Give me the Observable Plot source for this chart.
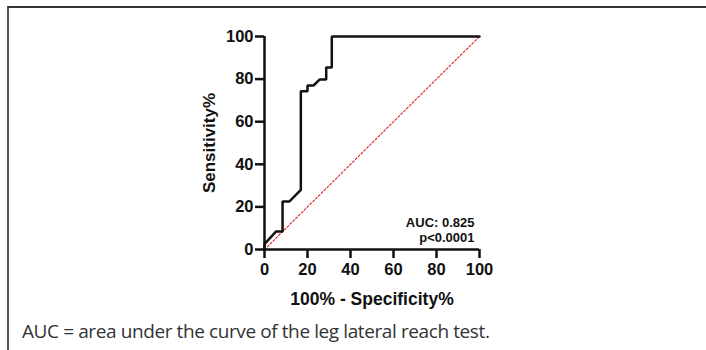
<!DOCTYPE html>
<html>
<head>
<meta charset="utf-8">
<script src="https://cdn.jsdelivr.net/npm/d3@7"></script>
<script src="https://cdn.jsdelivr.net/npm/@observablehq/plot@0.6"></script>
<style>
  html, body { margin: 0; padding: 0; background: #fff; }
  #wrap { position: relative; width: 706px; height: 350px; overflow: hidden; }
  #frame { position: absolute; left: 7px; top: 6px; width: 720px; height: 360px;
           border-left: 2px solid #555; border-top: 2px solid #333; }
  #chart { position: absolute; left: 0; top: 0; }
  #caption { position: absolute; left: 22px; top: 322px; font-family: "Open Sans", sans-serif;
             font-size: 19px; line-height: 19px; color: #333; white-space: nowrap; letter-spacing: -0.4px; }
  #chart svg text { font-family: "Liberation Sans", Arial, sans-serif !important; font-weight: bold !important; }
  #chart svg g[aria-label="x-axis tick label"] text,
  #chart svg g[aria-label="y-axis tick label"] text { font-size: 16.5px !important; }
  #chart svg g[aria-label="x-axis label"] text { font-size: 17.5px !important; }
  #chart svg g[aria-label="y-axis label"] text { font-size: 17px !important; }
  #chart svg g[aria-label="text"] text { font-size: 13px !important; }
</style>
</head>
<body>
<div id="wrap">
  <div id="frame"></div>
  <div id="chart"></div>
  <div id="caption">AUC = area under the curve of the leg lateral reach test.</div>
</div>
<script>
// ROC curve: 100% - Specificity% (x) vs Sensitivity% (y)
const fpr = [0, 0, 5.4, 8.4, 8.4, 11.5, 16.9, 16.9, 20, 20, 22.8, 25.6, 28.7, 28.7, 31.3, 31.3, 100];
const tpr = [0, 2.5, 8.5, 8.5, 22.5, 22.5, 28, 74.3, 74.3, 77, 77, 79.8, 79.8, 85.5, 85.5, 100, 100];
const refX = [0, 100];
const refY = [0, 100];
const ticks = [0, 20, 40, 60, 80, 100];
const xLabel = "100% - Specificity%";
const yLabel = "Sensitivity%";
const annotation = "AUC: 0.825\np<0.0001";

const roc = fpr.map((x, i) => ({x, y: tpr[i]}));
const ref = refX.map((x, i) => ({x, y: refY[i]}));

const plot = Plot.plot({
  width: 706,
  height: 316,
  marginLeft: 264,
  marginRight: 227,
  marginTop: 36,
  marginBottom: 67,
  style: {fontFamily: "Liberation Sans, Arial, sans-serif", fontWeight: "bold", fontSize: "16.5px", background: "transparent", color: "#111"},
  x: {domain: [0, 100]},
  y: {domain: [0, 100]},
  marks: [
    Plot.line(ref, {x: "x", y: "y", stroke: "#e03030", strokeWidth: 1.2, strokeDasharray: "2,2"}),
    Plot.line(roc, {x: "x", y: "y", stroke: "#111", strokeWidth: 2.5, strokeLinejoin: "miter"}),
    Plot.ruleY([0], {x1: 0, x2: 100, stroke: "#111", strokeWidth: 2.5}),
    Plot.ruleX([0], {y1: 0, y2: 100, stroke: "#111", strokeWidth: 2.5}),
    Plot.axisX({ticks, tickSize: 9, tickPadding: 5, strokeWidth: 2.5, fontSize: 16.5,
      label: xLabel, labelAnchor: "center", labelArrow: "none", labelOffset: 55}),
    Plot.axisY({ticks, tickSize: 9, tickPadding: 2, strokeWidth: 2.5, fontSize: 16.5,
      label: yLabel, labelAnchor: "center", labelArrow: "none", labelOffset: 62}),
    Plot.text([annotation], {frameAnchor: "bottom-right", textAnchor: "end", lineAnchor: "bottom",
      dx: -5, dy: -8, fontSize: 13, lineHeight: 1.08, fill: "#111"})
  ]
});
document.getElementById("chart").appendChild(plot);
</script>
</body>
</html>
